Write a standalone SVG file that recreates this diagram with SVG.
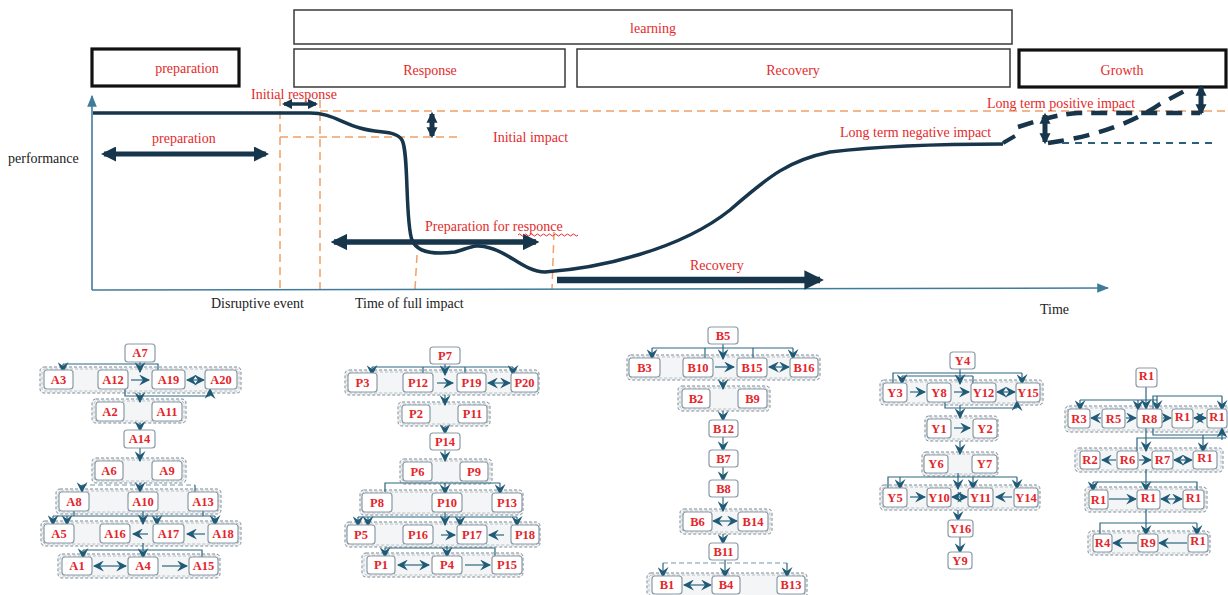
<svg xmlns="http://www.w3.org/2000/svg" width="1228" height="595" viewBox="0 0 1228 595">
<style>
.hb{fill:#fff;stroke:#3a3a3a;stroke-width:1.5}
.hbk{fill:#fff;stroke:#111;stroke-width:3.2}
.rt{font-family:"Liberation Serif",serif;font-size:14px;fill:#e32b2b}
.bt{font-family:"Liberation Serif",serif;font-size:14px;fill:#222}
.od{fill:none;stroke:#f0a06a;stroke-width:1.5;stroke-dasharray:8,5}
.ax{fill:none;stroke:#3f7c9c;stroke-width:1.6}
.big{fill:none;stroke:#17354b}
.n{fill:#fff;stroke:#8b9aa5;stroke-width:1.2}
.g{fill:#f3f5f6;stroke:#7d8b95;stroke-width:1;stroke-dasharray:3,2}
.gi{fill:none;stroke:#a9b4bb;stroke-width:0.8;stroke-dasharray:3,2}
.nt{font-family:"Liberation Serif",serif;font-size:12.5px;font-weight:bold;fill:#e3262b;text-anchor:middle}
.c{fill:none;stroke:#2c6682;stroke-width:1.2}
.cd{fill:none;stroke:#6f9ab0;stroke-width:1.2;stroke-dasharray:5,3}
.a{marker-end:url(#ah)}
.d{marker-start:url(#ah);marker-end:url(#ah)}
</style>
<defs>
<marker id="ah" viewBox="0 0 10 10" refX="9" refY="5" markerWidth="11" markerHeight="11" orient="auto-start-reverse" markerUnits="userSpaceOnUse">
<path d="M0,0 L10,5 L0,10 L3.5,5 z" fill="#1f5a77"/>
</marker>
<marker id="bh" viewBox="0 0 10 10" refX="8" refY="5" markerWidth="3" markerHeight="3" orient="auto-start-reverse">
<path d="M0,0 L10,5 L0,10 z" fill="#17354b"/>
</marker>
<marker id="bs" viewBox="0 0 10 10" refX="8" refY="5" markerWidth="2.2" markerHeight="2.6" orient="auto-start-reverse">
<path d="M0,0 L10,5 L0,10 z" fill="#17354b"/>
</marker>
<marker id="axh" viewBox="0 0 10 10" refX="9" refY="5" markerWidth="12" markerHeight="12" orient="auto" markerUnits="userSpaceOnUse">
<path d="M0,1 L10,5 L0,9 z" fill="#3f7c9c"/>
</marker>
</defs>
<rect width="1228" height="595" fill="#fff"/>

<!-- phase boxes -->
<g id="learning"><rect class="hb" x="294" y="10" width="718" height="34"/><text class="rt" x="653" y="33" text-anchor="middle">learning</text></g>
<g id="preparation-box"><rect class="hbk" x="92" y="49" width="147" height="37"/><text class="rt" x="187" y="73" text-anchor="middle">preparation</text></g>
<g id="response-box"><rect class="hb" x="294" y="49" width="271" height="38"/><text class="rt" x="430" y="75" text-anchor="middle">Response</text></g>
<g id="recovery-box"><rect class="hb" x="577" y="49" width="433" height="38"/><text class="rt" x="793" y="75" text-anchor="middle">Recovery</text></g>
<g id="growth-box"><rect class="hbk" x="1019" y="50" width="207" height="37"/><text class="rt" x="1122" y="75" text-anchor="middle">Growth</text></g>

<!-- chart -->
<g id="chart">
<line class="od" x1="320" y1="111" x2="1228" y2="111"/>
<line class="od" x1="280" y1="137" x2="458" y2="137"/>
<line class="od" x1="280" y1="98" x2="280" y2="289"/>
<line class="od" x1="320" y1="100" x2="320" y2="289"/>
<line class="od" x1="417" y1="255" x2="415" y2="289"/>
<line class="od" x1="554" y1="232" x2="552" y2="289"/>
<line class="ax" x1="92" y1="290" x2="92" y2="96" marker-end="url(#axh)"/>
<line class="ax" x1="92" y1="290" x2="1108" y2="288" marker-end="url(#axh)"/>
<path class="big" stroke-width="3.5" d="M93,113 L310,113 C330,113 340,122 360,128 C380,134 396,130 402,140 C409,152 405,222 412,240 C418,255 440,254 455,252 C470,248 475,243 490,248 C510,253 525,272 545,272 C600,268 680,250 730,210 C770,175 790,160 830,152 C880,146 950,144 1003,144"/>
<line class="big" stroke-width="5" x1="104" y1="154" x2="266" y2="154" marker-start="url(#bh)" marker-end="url(#bh)"/>
<line class="big" stroke-width="3.5" x1="284" y1="104" x2="316" y2="104" marker-start="url(#bh)" marker-end="url(#bh)"/>
<line class="big" stroke-width="5" x1="432" y1="114" x2="432" y2="136" marker-start="url(#bs)" marker-end="url(#bs)"/>
<line class="big" stroke-width="5.5" x1="334" y1="242" x2="536" y2="242" marker-start="url(#bh)" marker-end="url(#bh)"/>
<line class="big" stroke-width="6.5" x1="557" y1="280" x2="820" y2="280" marker-end="url(#bh)"/>
<line class="big" stroke-width="5" x1="1045" y1="115" x2="1045" y2="142" marker-start="url(#bs)" marker-end="url(#bs)"/>
<line class="big" stroke-width="5" x1="1201" y1="87" x2="1201" y2="113" marker-start="url(#bs)" marker-end="url(#bs)"/>
<path class="big" stroke-width="4" stroke-dasharray="14,8" d="M1003,143 L1015,136"/>
<path class="big" stroke-width="4.5" stroke-dasharray="16,9" d="M1018,127 C1040,120 1058,114 1078,113 L1200,113"/>
<path class="big" stroke-width="4.5" stroke-dasharray="16,10" d="M1048,143 C1090,137 1130,125 1160,104 L1192,87"/>
<line stroke="#2c5f7c" stroke-width="2" stroke-dasharray="7,6" x1="1062" y1="143" x2="1212" y2="143"/>
<text class="bt" x="8" y="163">performance</text>
<text class="bt" x="211" y="308">Disruptive event</text>
<text class="bt" x="355" y="308">Time of full impact</text>
<text class="bt" x="1040" y="314">Time</text>
<text class="rt" x="152" y="143">preparation</text>
<text class="rt" x="251" y="99">Initial response</text>
<text class="rt" x="493" y="142">Initial impact</text>
<text class="rt" x="425" y="231">Preparation for responce</text>
<path d="M518,235 q1.5,-2 3,0 t3,0 t3,0 t3,0 t3,0 t3,0 t3,0 t3,0 t3,0 t3,0 t3,0 t3,0 t3,0 t3,0 t3,0 t3,0 t3,0 t3,0 t3,0 t3,0" fill="none" stroke="#e32b2b" stroke-width="1"/>
<text class="rt" x="690" y="270">Recovery</text>
<text class="rt" x="840" y="137">Long term negative impact</text>
<text class="rt" x="987" y="108">Long term positive impact</text>
</g>

<!-- cluster backgrounds -->
<g id="clusters">
<rect class="g" x="40" y="367" width="201" height="26" rx="4"/><rect class="gi" x="42" y="369" width="197" height="22" rx="3"/>
<rect class="g" x="92" y="399" width="94" height="24" rx="4"/><rect class="gi" x="94" y="401" width="90" height="20" rx="3"/>
<rect class="g" x="92" y="458" width="94" height="25" rx="4"/><rect class="gi" x="94" y="460" width="90" height="21" rx="3"/>
<rect class="g" x="56" y="489" width="165" height="25" rx="4"/><rect class="gi" x="58" y="491" width="161" height="21" rx="3"/>
<rect class="g" x="41" y="521" width="200" height="25" rx="4"/><rect class="gi" x="43" y="523" width="196" height="21" rx="3"/>
<rect class="g" x="58" y="554" width="162" height="24" rx="4"/><rect class="gi" x="60" y="556" width="158" height="20" rx="3"/>

<rect class="g" x="345" y="370" width="194" height="25" rx="4"/><rect class="gi" x="347" y="372" width="190" height="21" rx="3"/>
<rect class="g" x="398" y="402" width="92" height="24" rx="4"/><rect class="gi" x="400" y="404" width="88" height="20" rx="3"/>
<rect class="g" x="400" y="459" width="92" height="25" rx="4"/><rect class="gi" x="402" y="461" width="88" height="21" rx="3"/>
<rect class="g" x="360" y="490" width="163" height="25" rx="4"/><rect class="gi" x="362" y="492" width="159" height="21" rx="3"/>
<rect class="g" x="345" y="522" width="195" height="25" rx="4"/><rect class="gi" x="347" y="524" width="191" height="21" rx="3"/>
<rect class="g" x="362" y="553" width="161" height="24" rx="4"/><rect class="gi" x="364" y="555" width="157" height="20" rx="3"/>

<rect class="g" x="627" y="355" width="193" height="25" rx="4"/><rect class="gi" x="629" y="357" width="189" height="21" rx="3"/>
<rect class="g" x="678" y="386" width="92" height="25" rx="4"/><rect class="gi" x="680" y="388" width="88" height="21" rx="3"/>
<rect class="g" x="680" y="509" width="92" height="25" rx="4"/><rect class="gi" x="682" y="511" width="88" height="21" rx="3"/>
<rect class="g" x="647" y="573" width="160" height="25" rx="4"/><rect class="gi" x="649" y="575" width="156" height="21" rx="3"/>

<rect class="g" x="880" y="380" width="163" height="25" rx="4"/><rect class="gi" x="882" y="382" width="159" height="21" rx="3"/>
<rect class="g" x="925" y="416" width="73" height="25" rx="4"/><rect class="gi" x="927" y="418" width="69" height="21" rx="3"/>
<rect class="g" x="922" y="452" width="76" height="24" rx="4"/><rect class="gi" x="924" y="454" width="72" height="20" rx="3"/>
<rect class="g" x="880" y="485" width="160" height="25" rx="4"/><rect class="gi" x="882" y="487" width="156" height="21" rx="3"/>

<rect class="g" x="1065" y="406" width="170" height="26" rx="4"/><rect class="gi" x="1067" y="408" width="166" height="22" rx="3"/>
<rect class="g" x="1075" y="448" width="148" height="24" rx="4"/><rect class="gi" x="1077" y="450" width="144" height="20" rx="3"/>
<rect class="g" x="1085" y="487" width="122" height="25" rx="4"/><rect class="gi" x="1087" y="489" width="118" height="21" rx="3"/>
<rect class="g" x="1088" y="531" width="122" height="24" rx="4"/><rect class="gi" x="1090" y="533" width="118" height="20" rx="3"/>
</g>

<!-- connectors -->
<g id="connectors">
<!-- A -->
<path class="c" d="M63,364 L158,364 L158,370"/>
<line class="c a" x1="63" y1="364" x2="63" y2="372"/>
<line class="c a" x1="140" y1="362" x2="140" y2="372"/>
<line class="c a" x1="131" y1="380" x2="149" y2="380"/>
<line class="c d" x1="187" y1="380" x2="204" y2="380"/>
<path class="c" d="M125,389 L125,396 L210,396"/>
<line class="c a" x1="210" y1="396" x2="210" y2="389"/>
<line class="c a" x1="140" y1="393" x2="140" y2="402"/>
<line class="c a" x1="140" y1="423" x2="140" y2="431"/>
<line class="c a" x1="140" y1="448" x2="140" y2="461"/>
<line class="cd" x1="82" y1="485" x2="195" y2="485"/>
<line class="c" x1="195" y1="485" x2="195" y2="492"/>
<line class="c a" x1="82" y1="485" x2="82" y2="492"/>
<line class="c a" x1="140" y1="483" x2="140" y2="492"/>
<line class="c" x1="53" y1="516" x2="215" y2="516"/>
<line class="c" x1="74" y1="511" x2="74" y2="516"/>
<line class="c" x1="203" y1="511" x2="203" y2="516"/>
<line class="c a" x1="53" y1="516" x2="53" y2="525"/>
<line class="c a" x1="67" y1="516" x2="67" y2="525"/>
<line class="c a" x1="143" y1="511" x2="143" y2="524"/>
<line class="c a" x1="157" y1="516" x2="157" y2="525"/>
<line class="c a" x1="215" y1="516" x2="215" y2="525"/>
<line class="c a" x1="148" y1="534" x2="133" y2="534"/>
<line class="c a" x1="205" y1="534" x2="187" y2="534"/>
<path class="c" d="M83,550 L202,550 L202,557"/>
<line class="c a" x1="83" y1="550" x2="83" y2="558"/>
<line class="c a" x1="143" y1="543" x2="143" y2="558"/>
<line class="c d" x1="94" y1="566" x2="126" y2="566"/>
<line class="c a" x1="162" y1="566" x2="187" y2="566"/>
<!-- P -->
<path class="c" d="M372,367 L513,367"/>
<line class="c" x1="423" y1="367" x2="423" y2="373"/>
<line class="c" x1="465" y1="367" x2="465" y2="373"/>
<line class="c a" x1="372" y1="367" x2="372" y2="375"/>
<line class="c a" x1="445" y1="364" x2="445" y2="375"/>
<line class="c a" x1="513" y1="367" x2="513" y2="375"/>
<line class="c a" x1="437" y1="383" x2="453" y2="383"/>
<line class="c d" x1="488" y1="383" x2="510" y2="383"/>
<line class="c a" x1="445" y1="395" x2="445" y2="405"/>
<line class="c a" x1="445" y1="426" x2="445" y2="434"/>
<line class="c a" x1="445" y1="450" x2="445" y2="461"/>
<path class="c" d="M385,492 L385,483 L500,483"/>
<line class="c a" x1="445" y1="483" x2="445" y2="494"/>
<line class="c a" x1="500" y1="483" x2="500" y2="494"/>
<line class="c" x1="358" y1="517" x2="517" y2="517"/>
<line class="c a" x1="358" y1="517" x2="358" y2="526"/>
<line class="c a" x1="368" y1="517" x2="368" y2="526"/>
<line class="c a" x1="445" y1="512" x2="445" y2="525"/>
<line class="c a" x1="460" y1="517" x2="460" y2="526"/>
<line class="c a" x1="517" y1="517" x2="517" y2="526"/>
<line class="c a" x1="441" y1="535" x2="455" y2="535"/>
<line class="c a" x1="504" y1="535" x2="489" y2="535"/>
<path class="c" d="M385,548 L495,548 L495,556"/>
<line class="c a" x1="385" y1="548" x2="385" y2="557"/>
<line class="c a" x1="447" y1="546" x2="447" y2="557"/>
<line class="c d" x1="398" y1="565" x2="429" y2="565"/>
<line class="c a" x1="465" y1="565" x2="490" y2="565"/>
<!-- B -->
<path class="c" d="M652,348 L793,348"/>
<line class="c" x1="705" y1="348" x2="705" y2="358"/>
<line class="c" x1="753" y1="348" x2="753" y2="358"/>
<line class="c a" x1="652" y1="348" x2="652" y2="359"/>
<line class="c a" x1="723" y1="344" x2="723" y2="359"/>
<line class="c a" x1="793" y1="348" x2="793" y2="359"/>
<line class="c a" x1="715" y1="367" x2="734" y2="367"/>
<line class="c d" x1="769" y1="367" x2="789" y2="367"/>
<line class="c a" x1="723" y1="380" x2="723" y2="389"/>
<line class="c a" x1="723" y1="411" x2="723" y2="421"/>
<line class="c a" x1="723" y1="437" x2="723" y2="451"/>
<line class="c a" x1="723" y1="467" x2="723" y2="481"/>
<line class="c a" x1="723" y1="497" x2="723" y2="511"/>
<line class="c d" x1="713" y1="521" x2="737" y2="521"/>
<line class="c a" x1="723" y1="534" x2="723" y2="544"/>
<line class="cd" x1="663" y1="563" x2="787" y2="563"/>
<line class="c a" x1="663" y1="563" x2="663" y2="577"/>
<line class="c a" x1="725" y1="560" x2="725" y2="577"/>
<line class="c a" x1="787" y1="563" x2="787" y2="577"/>
<line class="c d" x1="684" y1="585" x2="711" y2="585"/>
<!-- Y -->
<path class="c" d="M893,383 L893,373 L1022,373"/>
<line class="c" x1="973" y1="376" x2="973" y2="383"/>
<line class="c" x1="902" y1="376" x2="973" y2="376"/>
<line class="c a" x1="902" y1="376" x2="902" y2="384"/>
<line class="c a" x1="960" y1="369" x2="960" y2="384"/>
<line class="c a" x1="1022" y1="373" x2="1022" y2="384"/>
<line class="c a" x1="910" y1="392" x2="925" y2="392"/>
<line class="c a" x1="954" y1="392" x2="969" y2="392"/>
<line class="c d" x1="997" y1="392" x2="1015" y2="392"/>
<path class="c" d="M945,402 L945,408 L1017,408"/>
<line class="c a" x1="1017" y1="408" x2="1017" y2="401"/>
<line class="c a" x1="960" y1="405" x2="960" y2="418"/>
<line class="c a" x1="954" y1="428" x2="970" y2="428"/>
<line class="c a" x1="960" y1="441" x2="960" y2="454"/>
<path class="c" d="M888,488 L888,477 L1017,477"/>
<line class="c a" x1="900" y1="477" x2="900" y2="489"/>
<line class="c a" x1="958" y1="473" x2="958" y2="489"/>
<line class="c a" x1="973" y1="477" x2="973" y2="489"/>
<line class="c a" x1="1017" y1="477" x2="1017" y2="489"/>
<line class="c a" x1="910" y1="497" x2="925" y2="497"/>
<line class="c d" x1="952" y1="497" x2="967" y2="497"/>
<line class="c a" x1="1012" y1="497" x2="996" y2="497"/>
<line class="c a" x1="958" y1="510" x2="958" y2="521"/>
<line class="c a" x1="960" y1="537" x2="960" y2="553"/>
<!-- R -->
<line class="c a" x1="1146" y1="387" x2="1146" y2="409"/>
<line class="c" x1="1080" y1="400" x2="1157" y2="400"/>
<line class="c a" x1="1080" y1="400" x2="1080" y2="410"/>
<line class="c a" x1="1138" y1="400" x2="1138" y2="410"/>
<line class="c a" x1="1157" y1="396" x2="1157" y2="410"/>
<path class="c" d="M1153,409 L1153,396 L1222,396"/>
<line class="c a" x1="1222" y1="396" x2="1222" y2="410"/>
<line class="c a" x1="1101" y1="418" x2="1091" y2="418"/>
<line class="c a" x1="1126" y1="418" x2="1136" y2="418"/>
<line class="c a" x1="1163" y1="418" x2="1171" y2="418"/>
<line class="c d" x1="1194" y1="418" x2="1206" y2="418"/>
<path class="c" d="M1153,428 L1153,435 L1226,435"/>
<line class="c a" x1="1222" y1="440" x2="1222" y2="428"/>
<line class="c a" x1="1146" y1="428" x2="1146" y2="451"/>
<path class="c" d="M1137,451 L1137,438 L1226,438"/>
<line class="c a" x1="1203" y1="435" x2="1203" y2="452"/>
<line class="c a" x1="1116" y1="460" x2="1102" y2="460"/>
<line class="c a" x1="1139" y1="460" x2="1151" y2="460"/>
<line class="c d" x1="1174" y1="460" x2="1192" y2="460"/>
<line class="c a" x1="1146" y1="469" x2="1146" y2="491"/>
<path class="c" d="M1093,482 L1197,482 L1197,490"/>
<line class="c a" x1="1093" y1="482" x2="1093" y2="491"/>
<line class="c a" x1="1109" y1="499" x2="1136" y2="499"/>
<line class="c d" x1="1161" y1="499" x2="1182" y2="499"/>
<line class="c a" x1="1146" y1="509" x2="1146" y2="535"/>
<path class="c" d="M1100,534 L1100,523 L1197,523"/>
<line class="c a" x1="1197" y1="523" x2="1197" y2="535"/>
<line class="c a" x1="1137" y1="543" x2="1113" y2="543"/>
<line class="c a" x1="1187" y1="543" x2="1159" y2="543"/>
</g>

<!-- nodes -->
<g id="A7"><rect class="n" x="125" y="344" width="30" height="18" rx="3"/><text class="nt" x="140" y="357">A7</text></g>
<g id="A3"><rect class="n" x="44" y="370" width="29" height="19" rx="3"/><text class="nt" x="58.5" y="384">A3</text></g>
<g id="A12"><rect class="n" x="98" y="370" width="30" height="19" rx="3"/><text class="nt" x="113" y="384">A12</text></g>
<g id="A19"><rect class="n" x="152" y="370" width="33" height="19" rx="3"/><text class="nt" x="168.5" y="384">A19</text></g>
<g id="A20"><rect class="n" x="205" y="370" width="32" height="19" rx="3"/><text class="nt" x="221" y="384">A20</text></g>
<g id="A2"><rect class="n" x="96" y="402" width="28" height="19" rx="3"/><text class="nt" x="110" y="416">A2</text></g>
<g id="A11"><rect class="n" x="152" y="402" width="30" height="19" rx="3"/><text class="nt" x="167" y="416">A11</text></g>
<g id="A14"><rect class="n" x="124" y="430" width="31" height="18" rx="3"/><text class="nt" x="139.5" y="443">A14</text></g>
<g id="A6"><rect class="n" x="95" y="461" width="28" height="19" rx="3"/><text class="nt" x="109" y="475">A6</text></g>
<g id="A9"><rect class="n" x="152" y="461" width="30" height="19" rx="3"/><text class="nt" x="167" y="475">A9</text></g>
<g id="A8"><rect class="n" x="59" y="492" width="30" height="19" rx="3"/><text class="nt" x="74" y="506">A8</text></g>
<g id="A10"><rect class="n" x="128" y="492" width="30" height="19" rx="3"/><text class="nt" x="143" y="506">A10</text></g>
<g id="A13"><rect class="n" x="188" y="492" width="30" height="19" rx="3"/><text class="nt" x="203" y="506">A13</text></g>
<g id="A5"><rect class="n" x="44" y="524" width="30" height="19" rx="3"/><text class="nt" x="59" y="538">A5</text></g>
<g id="A16"><rect class="n" x="100" y="524" width="30" height="19" rx="3"/><text class="nt" x="115" y="538">A16</text></g>
<g id="A17"><rect class="n" x="153" y="524" width="31" height="19" rx="3"/><text class="nt" x="168.5" y="538">A17</text></g>
<g id="A18"><rect class="n" x="208" y="524" width="30" height="19" rx="3"/><text class="nt" x="223" y="538">A18</text></g>
<g id="A1"><rect class="n" x="62" y="557" width="30" height="18" rx="3"/><text class="nt" x="77" y="570">A1</text></g>
<g id="A4"><rect class="n" x="128" y="557" width="30" height="18" rx="3"/><text class="nt" x="143" y="570">A4</text></g>
<g id="A15"><rect class="n" x="189" y="557" width="29" height="18" rx="3"/><text class="nt" x="203.5" y="570">A15</text></g>

<g id="P7"><rect class="n" x="430" y="347" width="30" height="17" rx="3"/><text class="nt" x="445" y="360">P7</text></g>
<g id="P3"><rect class="n" x="348" y="373" width="29" height="19" rx="3"/><text class="nt" x="362.5" y="387">P3</text></g>
<g id="P12"><rect class="n" x="403" y="373" width="30" height="19" rx="3"/><text class="nt" x="418" y="387">P12</text></g>
<g id="P19"><rect class="n" x="457" y="373" width="29" height="19" rx="3"/><text class="nt" x="471.5" y="387">P19</text></g>
<g id="P20"><rect class="n" x="511" y="373" width="27" height="19" rx="3"/><text class="nt" x="524.5" y="387">P20</text></g>
<g id="P2"><rect class="n" x="402" y="405" width="28" height="18" rx="3"/><text class="nt" x="416" y="418">P2</text></g>
<g id="P11"><rect class="n" x="458" y="405" width="29" height="18" rx="3"/><text class="nt" x="472.5" y="418">P11</text></g>
<g id="P14"><rect class="n" x="430" y="433" width="30" height="17" rx="3"/><text class="nt" x="445" y="446">P14</text></g>
<g id="P6"><rect class="n" x="403" y="462" width="29" height="19" rx="3"/><text class="nt" x="417.5" y="476">P6</text></g>
<g id="P9"><rect class="n" x="460" y="462" width="28" height="19" rx="3"/><text class="nt" x="474" y="476">P9</text></g>
<g id="P8"><rect class="n" x="362" y="493" width="30" height="19" rx="3"/><text class="nt" x="377" y="507">P8</text></g>
<g id="P10"><rect class="n" x="432" y="493" width="30" height="19" rx="3"/><text class="nt" x="447" y="507">P10</text></g>
<g id="P13"><rect class="n" x="492" y="493" width="30" height="19" rx="3"/><text class="nt" x="507" y="507">P13</text></g>
<g id="P5"><rect class="n" x="347" y="525" width="28" height="19" rx="3"/><text class="nt" x="361" y="539">P5</text></g>
<g id="P16"><rect class="n" x="403" y="525" width="30" height="19" rx="3"/><text class="nt" x="418" y="539">P16</text></g>
<g id="P17"><rect class="n" x="457" y="525" width="30" height="19" rx="3"/><text class="nt" x="472" y="539">P17</text></g>
<g id="P18"><rect class="n" x="511" y="525" width="28" height="19" rx="3"/><text class="nt" x="525" y="539">P18</text></g>
<g id="P1"><rect class="n" x="367" y="556" width="28" height="18" rx="3"/><text class="nt" x="381" y="569">P1</text></g>
<g id="P4"><rect class="n" x="432" y="556" width="30" height="18" rx="3"/><text class="nt" x="447" y="569">P4</text></g>
<g id="P15"><rect class="n" x="492" y="556" width="30" height="18" rx="3"/><text class="nt" x="507" y="569">P15</text></g>

<g id="B5"><rect class="n" x="708" y="327" width="30" height="17" rx="3"/><text class="nt" x="723" y="340">B5</text></g>
<g id="B3"><rect class="n" x="629" y="358" width="31" height="19" rx="3"/><text class="nt" x="644.5" y="372">B3</text></g>
<g id="B10"><rect class="n" x="683" y="358" width="30" height="19" rx="3"/><text class="nt" x="698" y="372">B10</text></g>
<g id="B15"><rect class="n" x="737" y="358" width="30" height="19" rx="3"/><text class="nt" x="752" y="372">B15</text></g>
<g id="B16"><rect class="n" x="790" y="358" width="28" height="19" rx="3"/><text class="nt" x="804" y="372">B16</text></g>
<g id="B2"><rect class="n" x="682" y="389" width="28" height="19" rx="3"/><text class="nt" x="696" y="403">B2</text></g>
<g id="B9"><rect class="n" x="738" y="389" width="29" height="19" rx="3"/><text class="nt" x="752.5" y="403">B9</text></g>
<g id="B12"><rect class="n" x="709" y="420" width="29" height="17" rx="3"/><text class="nt" x="723.5" y="433">B12</text></g>
<g id="B7"><rect class="n" x="709" y="450" width="29" height="17" rx="3"/><text class="nt" x="723.5" y="463">B7</text></g>
<g id="B8"><rect class="n" x="709" y="480" width="29" height="17" rx="3"/><text class="nt" x="723.5" y="493">B8</text></g>
<g id="B6"><rect class="n" x="683" y="512" width="29" height="19" rx="3"/><text class="nt" x="697.5" y="526">B6</text></g>
<g id="B14"><rect class="n" x="738" y="512" width="30" height="19" rx="3"/><text class="nt" x="753" y="526">B14</text></g>
<g id="B11"><rect class="n" x="709" y="543" width="29" height="17" rx="3"/><text class="nt" x="723.5" y="556">B11</text></g>
<g id="B1"><rect class="n" x="652" y="576" width="30" height="18" rx="3"/><text class="nt" x="667" y="589">B1</text></g>
<g id="B4"><rect class="n" x="712" y="576" width="28" height="18" rx="3"/><text class="nt" x="726" y="589">B4</text></g>
<g id="B13"><rect class="n" x="777" y="576" width="28" height="18" rx="3"/><text class="nt" x="791" y="589">B13</text></g>

<g id="Y4"><rect class="n" x="950" y="352" width="25" height="17" rx="3"/><text class="nt" x="962.5" y="365">Y4</text></g>
<g id="Y3"><rect class="n" x="883" y="383" width="24" height="19" rx="3"/><text class="nt" x="895" y="397">Y3</text></g>
<g id="Y8"><rect class="n" x="927" y="383" width="24" height="19" rx="3"/><text class="nt" x="939" y="397">Y8</text></g>
<g id="Y12"><rect class="n" x="971" y="383" width="25" height="19" rx="3"/><text class="nt" x="983.5" y="397">Y12</text></g>
<g id="Y15"><rect class="n" x="1016" y="383" width="24" height="19" rx="3"/><text class="nt" x="1028" y="397">Y15</text></g>
<g id="Y1"><rect class="n" x="927" y="419" width="24" height="19" rx="3"/><text class="nt" x="939" y="433">Y1</text></g>
<g id="Y2"><rect class="n" x="973" y="419" width="24" height="19" rx="3"/><text class="nt" x="985" y="433">Y2</text></g>
<g id="Y6"><rect class="n" x="924" y="455" width="24" height="18" rx="3"/><text class="nt" x="936" y="468">Y6</text></g>
<g id="Y7"><rect class="n" x="972" y="455" width="25" height="18" rx="3"/><text class="nt" x="984.5" y="468">Y7</text></g>
<g id="Y5"><rect class="n" x="883" y="488" width="24" height="19" rx="3"/><text class="nt" x="895" y="502">Y5</text></g>
<g id="Y10"><rect class="n" x="927" y="488" width="24" height="19" rx="3"/><text class="nt" x="939" y="502">Y10</text></g>
<g id="Y11"><rect class="n" x="968" y="488" width="25" height="19" rx="3"/><text class="nt" x="980.5" y="502">Y11</text></g>
<g id="Y14"><rect class="n" x="1014" y="488" width="24" height="19" rx="3"/><text class="nt" x="1026" y="502">Y14</text></g>
<g id="Y16"><rect class="n" x="948" y="520" width="25" height="17" rx="3"/><text class="nt" x="960.5" y="533">Y16</text></g>
<g id="Y9"><rect class="n" x="948" y="552" width="24" height="17" rx="3"/><text class="nt" x="960" y="565">Y9</text></g>

<g id="R1-top"><rect class="n" x="1136" y="368" width="21" height="19" rx="3"/><text class="nt" x="1146.5" y="380">R1</text></g>
<g id="R3"><rect class="n" x="1068" y="409" width="22" height="19" rx="3"/><text class="nt" x="1079" y="423">R3</text></g>
<g id="R5"><rect class="n" x="1102" y="409" width="23" height="19" rx="3"/><text class="nt" x="1113.5" y="423">R5</text></g>
<g id="R8"><rect class="n" x="1137" y="409" width="25" height="19" rx="3"/><text class="nt" x="1149.5" y="423">R8</text></g>
<g id="R1a"><rect class="n" x="1172" y="409" width="21" height="19" rx="3"/><text class="nt" x="1182.5" y="421">R1</text></g>
<g id="R1b"><rect class="n" x="1207" y="409" width="20" height="19" rx="3"/><text class="nt" x="1217" y="421">R1</text></g>
<g id="R2"><rect class="n" x="1080" y="451" width="20" height="18" rx="3"/><text class="nt" x="1090" y="464">R2</text></g>
<g id="R6"><rect class="n" x="1117" y="451" width="21" height="18" rx="3"/><text class="nt" x="1127.5" y="464">R6</text></g>
<g id="R7"><rect class="n" x="1152" y="451" width="21" height="18" rx="3"/><text class="nt" x="1162.5" y="464">R7</text></g>
<g id="R1c"><rect class="n" x="1193" y="451" width="24" height="18" rx="3"/><text class="nt" x="1205" y="462">R1</text></g>
<g id="R1d"><rect class="n" x="1089" y="490" width="19" height="19" rx="3"/><text class="nt" x="1098.5" y="504">R1</text></g>
<g id="R1e"><rect class="n" x="1137" y="490" width="23" height="19" rx="3"/><text class="nt" x="1148.5" y="502">R1</text></g>
<g id="R1f"><rect class="n" x="1183" y="490" width="21" height="19" rx="3"/><text class="nt" x="1193.5" y="502">R1</text></g>
<g id="R4"><rect class="n" x="1093" y="534" width="19" height="18" rx="3"/><text class="nt" x="1102.5" y="547">R4</text></g>
<g id="R9"><rect class="n" x="1138" y="534" width="20" height="18" rx="3"/><text class="nt" x="1148" y="547">R9</text></g>
<g id="R1g"><rect class="n" x="1188" y="534" width="20" height="18" rx="3"/><text class="nt" x="1198" y="545">R1</text></g>
</svg>
